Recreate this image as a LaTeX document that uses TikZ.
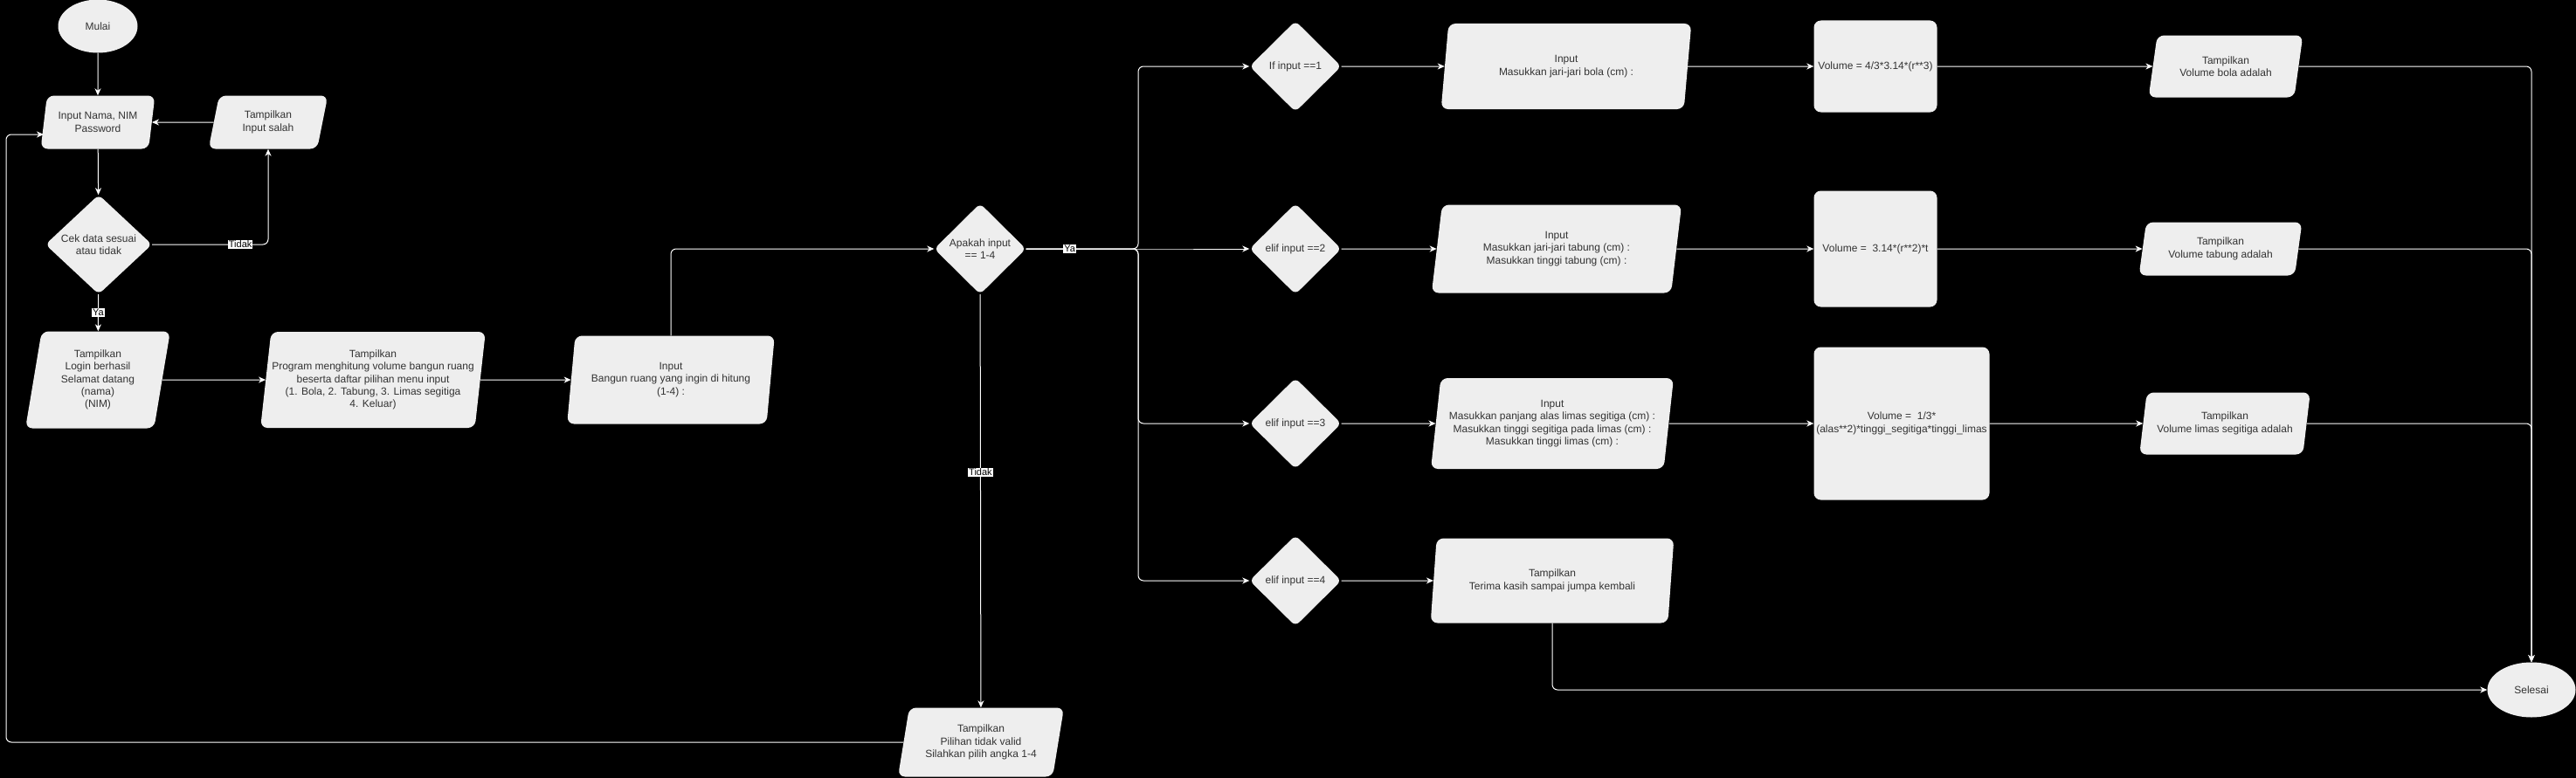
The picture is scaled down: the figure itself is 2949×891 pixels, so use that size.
\documentclass[tikz,border=0pt]{standalone}
\usepackage{fontspec}
\setmainfont{Liberation Sans}
\usetikzlibrary{arrows.meta,shapes.geometric}
\usepackage{xcolor}
\definecolor{boxfill}{HTML}{EEEEEE}
\definecolor{boxtext}{HTML}{333333}

\begin{document}
\begin{tikzpicture}[x=1bp, y=-1bp,
    every node/.style={fill=boxfill, text=boxtext, inner sep=0pt, align=center, font=\fontsize{12bp}{14.4bp}\selectfont},
    wh/.style 2 args={minimum width=#1bp, minimum height=#2bp},
    term/.style={ellipse},
    dec/.style={diamond, rounded corners=6bp},
    io/.style={trapezium, trapezium stretches=true, trapezium left angle=#1, trapezium right angle=\the\numexpr180-#1\relax, rounded corners=8bp},
    proc/.style={rectangle, rounded corners=8bp},
    lbl/.style={sharp corners, fill=white, text=black, font=\fontsize{11bp}{13bp}\selectfont, inner sep=1bp},
    flow/.style={draw=white, line width=1bp, rounded corners=6bp, -{Stealth[length=8bp, width=7bp, inset=2.5bp]}}]
    \fill[black] (0,0) rectangle (2949,891);
    \useasboundingbox (0,0) rectangle (2949,891);
    \node[term, wh={91}{61}] (0) at (112,30) {Mulai};
    \node[io=76, wh={131}{61}] (1) at (112,140) {Input Nama, NIM\\Password};
    \node[io=76, wh={137}{61}] (2) at (307,140) {Tampilkan\\Input salah};
    \node[dec, wh={122}{114}] (3) at (113,280) {Cek data sesuai\\atau tidak};
    \node[io=80, wh={166}{111}] (4) at (112,435) {Tampilkan\\Login berhasil\\Selamat datang\\(nama)\\(NIM)};
    \node[io=80, wh={258}{110}] (5) at (427,435) {Tampilkan\\Program menghitung volume bangun ruang\\beserta daftar pilihan menu input\\(1. Bola, 2. Tabung, 3. Limas segitiga\\4. Keluar)};
    \node[io=79, wh={238}{101}] (6) at (768,435) {Input\\Bangun ruang yang ingin di hitung\\(1-4) :};
    \node[dec, wh={105}{104}] (7) at (1122,285) {Apakah input\\== 1-4};
    \node[io=76, wh={190}{79}] (8) at (1123,850) {Tampilkan\\Pilihan tidak valid\\Silahkan pilih angka 1-4};
    \node[dec, wh={105}{104}] (9) at (1483,76) {If input ==1};
    \node[dec, wh={105}{104}] (10) at (1483,285) {elif input ==2};
    \node[dec, wh={105}{104}] (11) at (1483,485) {elif input ==3};
    \node[dec, wh={105}{104}] (12) at (1483,665) {elif input ==4};
    \node[io=79, wh={287}{98}] (13) at (1793,76) {Input\\Masukkan jari-jari bola (cm) :};
    \node[io=79, wh={287}{101}] (14) at (1782,285) {Input\\Masukkan jari-jari tabung (cm) :\\Masukkan tinggi tabung (cm) :};
    \node[io=79, wh={279}{104}] (15) at (1777,485) {Input\\Masukkan panjang alas limas segitiga (cm) :\\Masukkan tinggi segitiga pada limas (cm) :\\Masukkan tinggi limas (cm) :};
    \node[io=79, wh={279}{97}] (16) at (1777,665) {Tampilkan\\Terima kasih sampai jumpa kembali};
    \node[proc, wh={141}{105}] (17) at (2147,76) {Volume = 4/3*3.14*(r**3)};
    \node[proc, wh={141}{133}] (18) at (2147,285) {Volume =\ \ 3.14*(r**2)*t};
    \node[proc, wh={201}{175}] (19) at (2177,485) {Volume =\ \ 1/3*\\(alas**2)*tinggi\_segitiga*tinggi\_limas};
    \node[io=74, wh={177}{71}] (20) at (2548,76) {Tampilkan\\Volume bola adalah};
    \node[io=77, wh={187}{61}] (21) at (2542,285) {Tampilkan\\Volume tabung adalah};
    \node[io=74, wh={196}{71}] (22) at (2547,485) {Tampilkan\\Volume limas segitiga adalah};
    \node[term, wh={101}{63}] (23) at (2898,790) {Selesai};
    \coordinate (24) at (7,154);
    \coordinate (25) at (1303,285);
        \draw[flow] (0) -- (1);
        \draw[flow] (1) -- (3);
        \draw[flow] (3) -- node[lbl]{Ya} (4);
        \draw[flow] (3) -| node[lbl, pos=0.38]{Tidak} (2);
        \draw[flow] (2) -- (1);
        \draw[flow] (4) -- (5);
        \draw[flow] (5) -- (6);
        \draw[flow] (6) |- (7);
        \draw[flow] (7) -- node[lbl, pos=0.43]{Tidak} (8);
        \draw[flow] (8) -| (24) -- ([yshift=-14bp]1.west);
        \draw[flow] (7) -- (25) |- (9);
        \draw[flow] (7) -- (25) |- (11);
        \draw[flow] (7) -- (25) |- (12);
        \draw[flow] (7) -- node[lbl, pos=0.39]{Ya} (25) -- (10);
        \draw[flow] (9) -- (13);
        \draw[flow] (10) -- (14);
        \draw[flow] (11) -- (15);
        \draw[flow] (12) -- (16);
        \draw[flow] (13) -- (17);
        \draw[flow] (14) -- (18);
        \draw[flow] (15) -- (19);
        \draw[flow] (17) -- (20);
        \draw[flow] (18) -- (21);
        \draw[flow] (19) -- (22);
        \draw[flow] (20) -| (23);
        \draw[flow] (21) -| (23);
        \draw[flow] (22) -| (23);
        \draw[flow] (16) |- (23);
\end{tikzpicture}
\end{document}
